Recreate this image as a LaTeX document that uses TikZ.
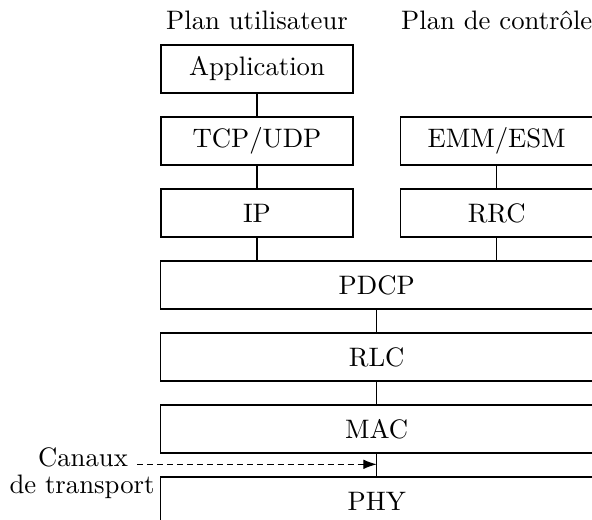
\documentclass[tikz,border=0pt]{standalone}
\usetikzlibrary{arrows.meta}
\tikzset{
  layer/.style={draw, line width=0.4pt, inner sep=0pt, minimum height=48*0.3745pt},
  narrow/.style={layer, minimum width=192*0.3745pt},
  wide/.style={layer, minimum width=432*0.3745pt},
  link/.style={line width=0.4pt},
  chan/.style={dashed, dash pattern=on 2.25pt off 1.5pt, -{Latex[length=5pt,width=3.6pt]}},
  lbl/.style={anchor=base, inner sep=3.33pt}
}
\begin{document}
\begin{tikzpicture}[x=0.3745pt,y=-0.3745pt]
\useasboundingbox (0,0) rectangle (592,519);
\clip (0,0) rectangle (592,519);
\node[lbl] (pu) at (257,29.3) {Plan utilisateur};
\node[lbl] (pc) at (496.7,29.3) {Plan de contrôle};
\node[narrow] (app) at (257,69) {Application};
\node[narrow] (tcp) at (257,141) {TCP/UDP};
\node[narrow] (ip) at (257,213) {IP};
\node[narrow] (emm) at (496.7,141) {EMM/ESM};
\node[narrow] (rrc) at (496.7,213) {RRC};
\node[wide] (pdcp) at (376.7,285) {PDCP};
\node[wide] (rlc) at (376.7,357) {RLC};
\node[wide] (mac) at (376.7,429) {MAC};
\node[wide] (phy) at (376.7,501) {PHY};
\draw[link] (app.south) -- (tcp.north);
\draw[link] (tcp.south) -- (ip.north);
\draw[link] (ip.south) -- (ip.south |- pdcp.north);
\draw[link] (emm.south) -- (rrc.north);
\draw[link] (rrc.south) -- (rrc.south |- pdcp.north);
\draw[link] (pdcp.south) -- (rlc.north);
\draw[link] (rlc.south) -- (mac.north);
\draw[link] (mac.south) -- (phy.north);
\node[lbl] (canaux) at (83,466) {Canaux};
\node[lbl] (transport) at (82,493) {de transport};
\coordinate (tip) at (376.7,464.3);
\draw[chan] (canaux.east |- tip) -- (tip);
\end{tikzpicture}
\end{document}
